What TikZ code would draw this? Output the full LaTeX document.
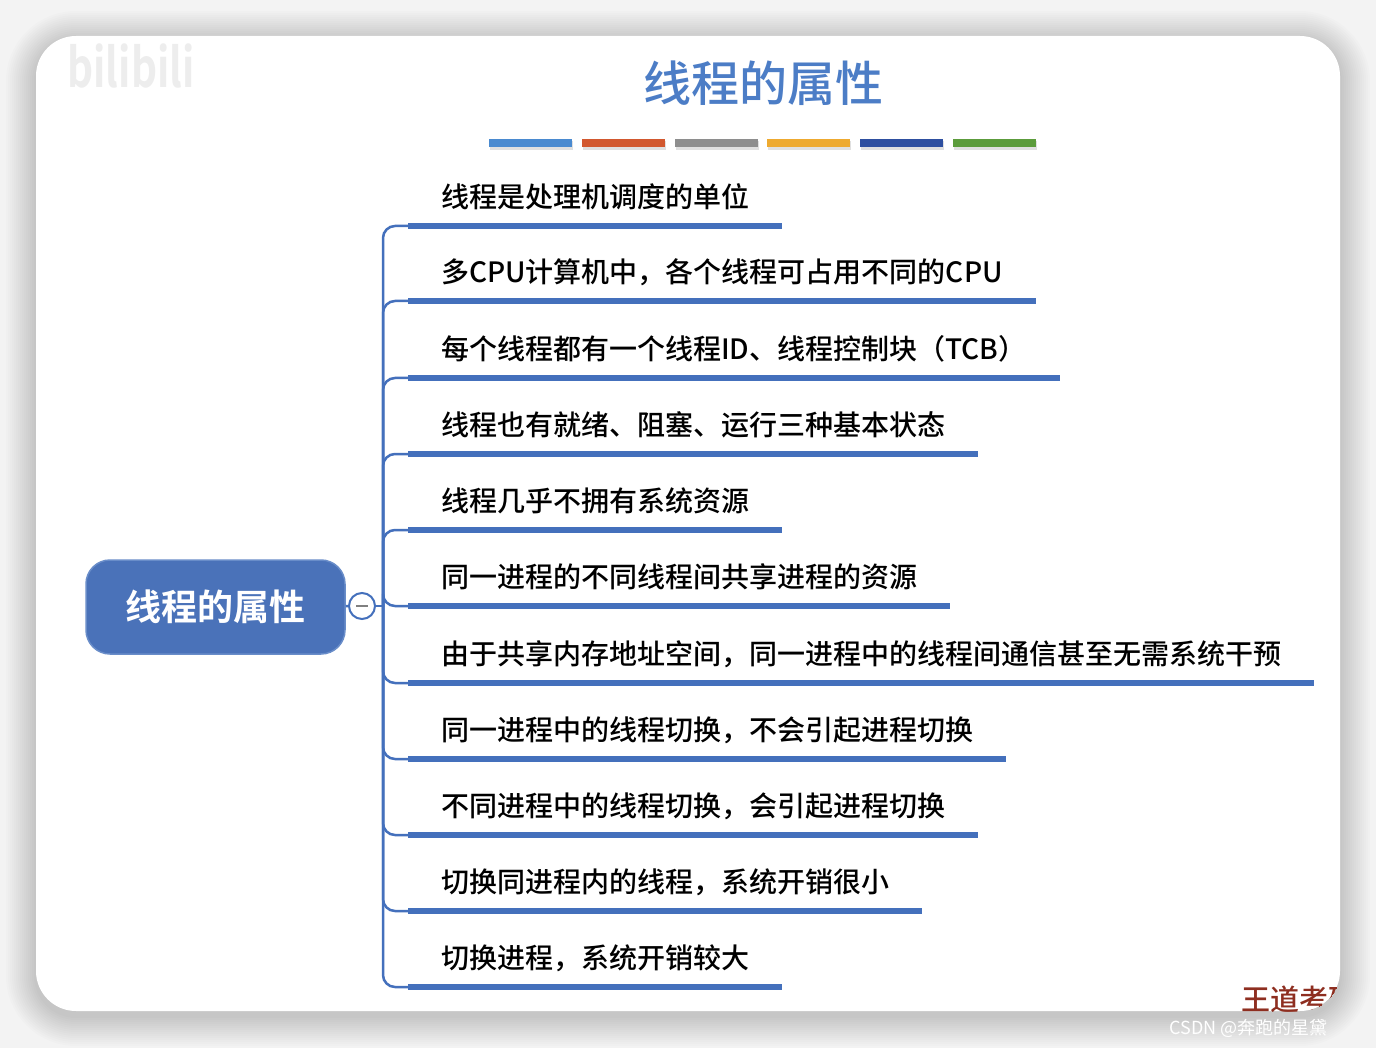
\documentclass[tikz,border=0pt]{standalone}
\usepackage{fontspec}
\newfontfamily\cjk{Noto Sans CJK SC}
\newfontfamily\cjkmed{Noto Sans CJK SC Medium}
\newfontfamily\cjkbold{Noto Sans CJK SC Bold}

\definecolor{mapblue}{HTML}{4470BC}
\definecolor{rootblue}{HTML}{4A72B9}
\definecolor{titleblue}{HTML}{4C7DC6}
\definecolor{pagegray}{HTML}{F3F3F3}
\definecolor{wdred}{HTML}{8E2E20}
\definecolor{barA}{HTML}{4A8AD0}
\definecolor{barB}{HTML}{D2582F}
\definecolor{barC}{HTML}{8E8E8E}
\definecolor{barD}{HTML}{EEAA30}
\definecolor{barE}{HTML}{2E4FA0}
\definecolor{barF}{HTML}{5C9C3C}

\tikzset{
  root/.style={fill=rootblue, draw=mapblue!80, line width=1.5pt, rounded corners=24pt,
    minimum width=259pt, minimum height=94pt, text=white,
    font=\cjkbold\fontsize{36}{38}\selectfont},
  fold/.style={circle, draw=mapblue, line width=2pt, fill=white, minimum size=26pt, inner sep=0pt,
    path picture={\draw[gray, line width=2pt]
      ([xshift=-6pt]path picture bounding box.center) -- ([xshift=6pt]path picture bounding box.center);}},
  topic/.style={anchor=south west, inner xsep=33pt, inner ysep=12pt, text height=22pt, text depth=6pt,
    font=\cjkmed\fontsize{28}{30}\selectfont},
  link/.style={mapblue, line width=2.5pt, rounded corners=12pt},
  uline/.style={mapblue, line width=6pt},
  title/.style={text=titleblue, font=\cjkmed\fontsize{48}{50}\selectfont}
}

\begin{document}
\begin{tikzpicture}[x=1pt,y=-1pt]
\fill[pagegray] (0,0) rectangle (1376,1048);
\useasboundingbox (0,0) rectangle (1376,1048);

% card and its shadow
\foreach \s [evaluate=\s as \r using 40+\s] in {2,4,...,30}
  \fill[black, opacity=.011, rounded corners=\r pt] (36-\s,41-\s) rectangle (1340+\s,1016+\s);
\fill[white, rounded corners=40pt] (36,36) rectangle (1340,1011);

% watermarks
\node[text=black!7, font=\cjkbold\fontsize{54}{54}\selectfont, xscale=.75] (logo) at (131,66) {bilibili};
\node[text=white, font=\cjk\fontsize{18}{20}\selectfont, anchor=west] (csdn) at (1166,1028) {CSDN @奔跑的星黛};
\begin{scope}
  \clip[rounded corners=40pt] (36,36) rectangle (1340,1011);
  \node[text=wdred, font=\cjkmed\fontsize{29}{30}\selectfont, anchor=west, inner sep=0pt] (brand) at (1241,999) {王道考研};
\end{scope}

% title and colour bars
\node[title] (title) at (763,83) {线程的属性};
\foreach \c [count=\i from 0, evaluate=\i as \x using 489+92.8*\i] in {barA,barB,barC,barD,barE,barF} {
  \fill[black, opacity=.12] (\x+1,141) rectangle (\x+84,150);
  \fill[\c] (\x,139) rectangle (\x+83,147);
}

% map
\node[root] (root) at (215.5,607) {线程的属性};
\node[fold] (fold) at (362,606) {};
\coordinate (hub) at (383,606);
\draw[link] (root) -- (fold);
\draw[link] (fold) -- (hub);

\foreach \y/\t [count=\i] in {
  226/{线程是处理机调度的单位},
  301/{多CPU计算机中，各个线程可占用不同的CPU},
  378/{每个线程都有一个线程ID、线程控制块（TCB）},
  454/{线程也有就绪、阻塞、运行三种基本状态},
  530/{线程几乎不拥有系统资源},
  606/{同一进程的不同线程间共享进程的资源},
  683/{由于共享内存地址空间，同一进程中的线程间通信甚至无需系统干预},
  759/{同一进程中的线程切换，不会引起进程切换},
  835/{不同进程中的线程切换，会引起进程切换},
  911/{切换同进程内的线程，系统开销很小},
  987/{切换进程，系统开销较大}} {
  \node[topic] (b\i) at (408,\y) {\t};
  \draw[link] (hub) |- (b\i.south west);
  \draw[uline] (b\i.south west) -- (b\i.south east);
}
\end{tikzpicture}
\end{document}
